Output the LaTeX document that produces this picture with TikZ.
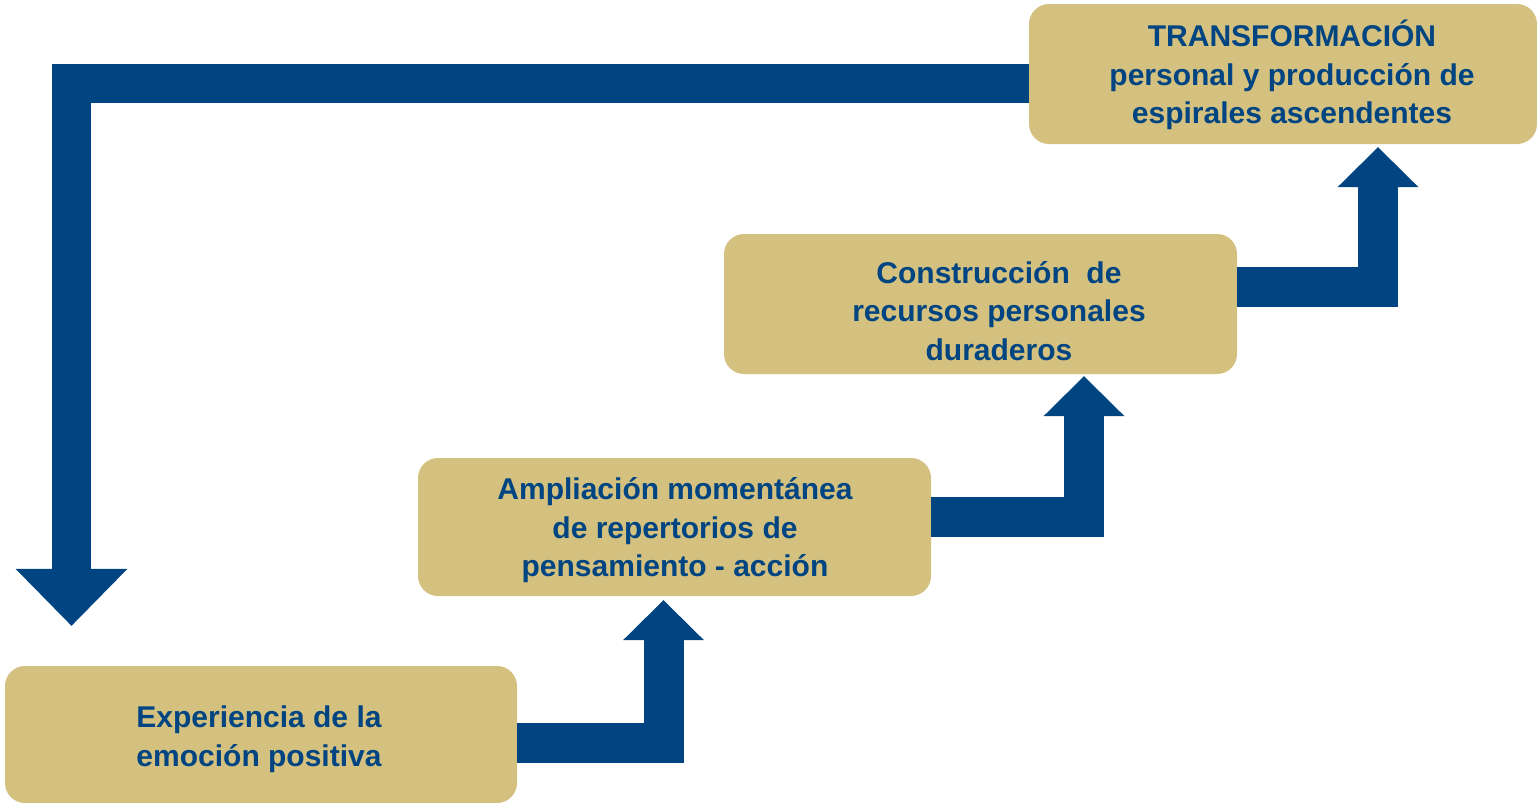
\documentclass[tikz,border=0pt]{standalone}
\usepackage{fontspec}
\setmainfont{Liberation Sans}
\usetikzlibrary{arrows.meta}
\definecolor{ochre}{HTML}{D4C17F}
\definecolor{navy}{HTML}{004581}
\tikzset{
  stage/.style={fill=ochre, rounded corners=20pt, inner sep=0pt},
  stagetext/.style={text=navy, align=center, font=\fontsize{30}{38.5}\selectfont\bfseries},
  flow/.style={draw=navy, line width=40pt, -{Triangle[width=81pt,length=40pt,line width=0pt]}},
  backflow/.style={draw=navy, line width=39pt, -{Triangle[width=112pt,length=57pt,line width=0pt]}}
}
\begin{document}
\begin{tikzpicture}[x=1pt,y=-1pt]
\useasboundingbox (0,0) rectangle (1537,803);
% stages
\node [stage, minimum width=512pt, minimum height=137pt] (box1) at (261,734.5) {};
\node [stage, minimum width=513pt, minimum height=138pt] (box2) at (674.5,527) {};
\node [stage, minimum width=513pt, minimum height=140pt] (box3) at (980.5,304) {};
\node [stage, minimum width=508pt, minimum height=140pt] (box4) at (1283,74) {};
\node [stagetext] (txt1) at (259,739) {Experiencia de la\\emoción positiva};
\node [stagetext] (txt2) at (675,530.5) {Ampliación momentánea\\de repertorios de\\pensamiento - acción};
\node [stagetext] (txt3) at (999,311) {Construcción\ \ de\\recursos personales\\duraderos};
\node [stagetext] (txt4) at (1292,75) {TRANSFORMACIÓN\\personal y producción de\\espirales ascendentes};
% arrows
\draw [flow] ([yshift=-8.5pt]box1.east) -| ([xshift=-11pt,yshift=-4pt]box2.south);
\draw [flow] ([yshift=10pt]box2.east) -| ([xshift=103.5pt,yshift=-2pt]box3.south);
\draw [flow] ([yshift=17pt]box3.east) -| ([xshift=95pt,yshift=-3pt]box4.south);
\draw [backflow] ([yshift=-9.5pt]box4.west) -| ([xshift=-189.5pt,yshift=40pt]box1.north);
\end{tikzpicture}
\end{document}
